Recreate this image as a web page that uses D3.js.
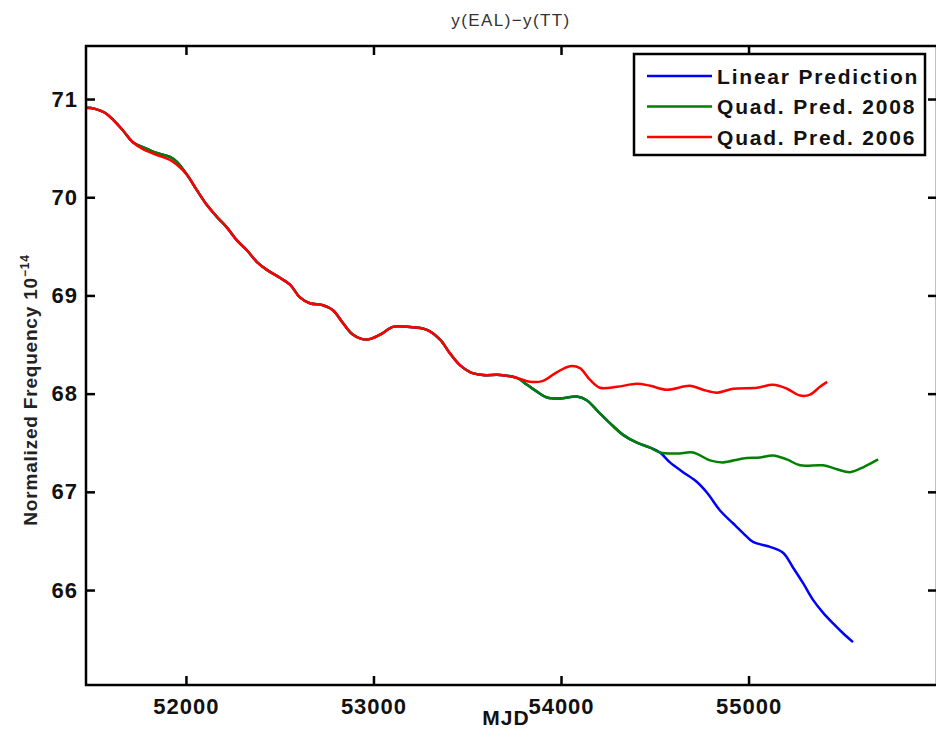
<!DOCTYPE html>
<html>
<head>
<meta charset="utf-8">
<script src="https://cdn.jsdelivr.net/npm/d3@7"></script>
<style>
  body { margin: 0; background: #fff; }
  svg { display: block; font-family: "Liberation Sans", Arial, sans-serif; }
</style>
</head>
<body>
<div id="chart"></div>
<script>
// Shared part of the three curves (MJD, normalized frequency)
const mjdShared = [51467, 51515, 51568, 51611, 51664, 51717, 51771, 51845, 51915, 51952,
  52005, 52059, 52112, 52165, 52219, 52272, 52325, 52379, 52432, 52501, 52555, 52608,
  52661, 52731, 52784, 52837, 52891, 52965, 53035, 53104, 53179, 53285, 53355, 53408,
  53461, 53515, 53584, 53675, 53765];
const freqShared = [70.91, 70.90, 70.86, 70.79, 70.68, 70.56, 70.51, 70.45, 70.41, 70.36,
  70.23, 70.07, 69.92, 69.80, 69.69, 69.56, 69.46, 69.34, 69.26, 69.18, 69.11, 68.98,
  68.92, 68.90, 68.85, 68.72, 68.60, 68.55, 68.60, 68.68, 68.68, 68.65, 68.55, 68.41,
  68.29, 68.22, 68.19, 68.19, 68.16];
// Quad. Pred. 2006 sits a little lower near 51800-51950
const mjd2006Dip = [51771, 51845, 51915, 51952];
const freq2006Dip = [70.49, 70.43, 70.38, 70.33];

// Quad. Pred. 2006 tail
const mjd2006Tail = [53835, 53904, 53979, 54048, 54101, 54155, 54208, 54299, 54405, 54475,
  54565, 54688, 54757, 54832, 54917, 55045, 55131, 55205, 55275, 55328, 55381, 55419];
const freq2006Tail = [68.12, 68.13, 68.22, 68.28, 68.26, 68.14, 68.06, 68.07, 68.10, 68.08,
  68.04, 68.08, 68.04, 68.01, 68.05, 68.06, 68.09, 68.05, 67.98, 67.99, 68.07, 68.12];

// Quad. Pred. 2008 tail (shared with linear up to ~54510)
const mjd2008Tail = [53819, 53872, 53925, 53995, 54085, 54139, 54192, 54261, 54331, 54405,
  54475, 54528, 54619, 54704, 54795, 54864, 54971, 55061, 55131, 55205, 55275, 55397,
  55472, 55541, 55611, 55691];
const freq2008Tail = [68.09, 68.02, 67.96, 67.95, 67.97, 67.93, 67.83, 67.70, 67.58, 67.50,
  67.45, 67.40, 67.39, 67.40, 67.32, 67.30, 67.34, 67.35, 67.37, 67.33, 67.27, 67.27,
  67.23, 67.20, 67.25, 67.33];

// Linear prediction tail
const mjdLinearTail = [54581, 54651, 54725, 54779, 54848, 54917, 54971, 55024, 55115, 55184,
  55237, 55291, 55344, 55397, 55451, 55504, 55557];
const freqLinearTail = [67.30, 67.20, 67.10, 66.99, 66.81, 66.68, 66.58, 66.49, 66.44, 66.38,
  66.23, 66.07, 65.90, 65.77, 65.66, 65.56, 65.47];

const seriesNames = ["Linear Prediction", "Quad. Pred. 2008", "Quad. Pred. 2006"];
const seriesColors = ["#0000ff", "#008000", "#ff0000"];
const xTicks = [52000, 53000, 54000, 55000];
const yTicks = [66, 67, 68, 69, 70, 71];

function zip(xs, ys) { return xs.map((x, i) => ({x: x, y: ys[i]})); }

const shared = zip(mjdShared, freqShared);
const shared2006 = shared.map(d => {
  const k = mjd2006Dip.indexOf(d.x);
  return k < 0 ? d : {x: d.x, y: freq2006Dip[k]};
});
const tail2008 = zip(mjd2008Tail, freq2008Tail);
const series = [
  shared.concat(tail2008.filter(d => d.x <= 54528), zip(mjdLinearTail, freqLinearTail)),
  shared.concat(tail2008),
  shared2006.concat(zip(mjd2006Tail, freq2006Tail))
];

const W = 936, H = 731;
const plotLeft = 86, plotRight = 937, plotTop = 46, plotBottom = 685;

const svg = d3.select("#chart").append("svg")
  .attr("width", W).attr("height", H);
svg.append("rect").attr("width", W).attr("height", H).attr("fill", "#fff");

const x = d3.scaleLinear().domain([51467, 56005]).range([plotLeft, plotRight]);
const y = d3.scaleLinear().domain([65.033, 71.54]).range([plotBottom, plotTop]);

const tickFont = g => g.selectAll("text")
  .attr("font-size", 22).attr("font-weight", "bold")
  .attr("letter-spacing", 1).attr("fill", "#111");

// Axes (ticks pointing inward, MATLAB style)
svg.append("g").attr("transform", `translate(0,${plotBottom})`)
  .call(d3.axisBottom(x).tickValues(xTicks).tickFormat(d3.format("d"))
    .tickSize(-9).tickPadding(13))
  .call(g => g.select(".domain").remove())
  .call(tickFont);
svg.append("g").attr("transform", `translate(${plotLeft},0)`)
  .call(d3.axisLeft(y).tickValues(yTicks).tickFormat(d3.format("d"))
    .tickSize(-9).tickPadding(8))
  .call(g => g.select(".domain").remove())
  .call(tickFont);
svg.append("g").attr("transform", `translate(0,${plotTop})`)
  .call(d3.axisTop(x).tickValues(xTicks).tickSize(-9).tickFormat(""))
  .call(g => g.select(".domain").remove());
svg.append("g").attr("transform", `translate(${plotRight},0)`)
  .call(d3.axisRight(y).tickValues(yTicks).tickSize(-9).tickFormat(""))
  .call(g => g.select(".domain").remove());
svg.selectAll(".tick line").attr("stroke", "#000").attr("stroke-width", 2.5);

// Curves
const line = d3.line().x(d => x(d.x)).y(d => y(d.y)).curve(d3.curveCatmullRom.alpha(0.5));
svg.append("defs").append("clipPath").attr("id", "clip")
  .append("rect").attr("x", plotLeft).attr("y", plotTop)
  .attr("width", plotRight - plotLeft).attr("height", plotBottom - plotTop);
svg.append("g").attr("clip-path", "url(#clip)")
  .selectAll("path").data(series).join("path")
  .attr("d", line)
  .attr("fill", "none")
  .attr("stroke", (d, i) => seriesColors[i])
  .attr("stroke-width", 2.5)
  .attr("stroke-linejoin", "round");

// Box
svg.append("rect")
  .attr("x", plotLeft).attr("y", plotTop)
  .attr("width", plotRight - plotLeft).attr("height", plotBottom - plotTop)
  .attr("fill", "none").attr("stroke", "#000").attr("stroke-width", 2.5);

// Labels
svg.append("text").attr("x", 511).attr("y", 26).attr("text-anchor", "middle")
  .attr("font-size", 17).attr("letter-spacing", 1.4).attr("fill", "#333")
  .text("y(EAL)\u2212y(TT)");
svg.append("text").attr("x", 506).attr("y", 725).attr("text-anchor", "middle")
  .attr("font-size", 21).attr("font-weight", "bold").attr("letter-spacing", 1)
  .attr("fill", "#111").text("MJD");
const yl = svg.append("text")
  .attr("transform", "translate(37,390) rotate(-90)")
  .attr("text-anchor", "middle")
  .attr("font-size", 19).attr("font-weight", "bold").attr("letter-spacing", 0.8)
  .attr("fill", "#222");
yl.append("tspan").text("Normalized Frequency 10");
yl.append("tspan").attr("dy", -8).attr("font-size", 12).text("\u221214");

// Legend
const lg = svg.append("g");
lg.append("rect").attr("x", 634).attr("y", 54).attr("width", 291).attr("height", 101)
  .attr("fill", "#fff").attr("stroke", "#000").attr("stroke-width", 2.5);
const rows = lg.selectAll("g.row").data(seriesNames).join("g")
  .attr("class", "row")
  .attr("transform", (d, i) => `translate(0,${76 + i * 30.5})`);
rows.append("line").attr("x1", 647).attr("x2", 712)
  .attr("stroke", (d, i) => seriesColors[i]).attr("stroke-width", 2.5);
rows.append("text").attr("x", 717).attr("dy", "0.36em")
  .attr("font-size", 21).attr("font-weight", "bold").attr("letter-spacing", 1.8)
  .attr("fill", "#111").text(d => d);
</script>
</body>
</html>
